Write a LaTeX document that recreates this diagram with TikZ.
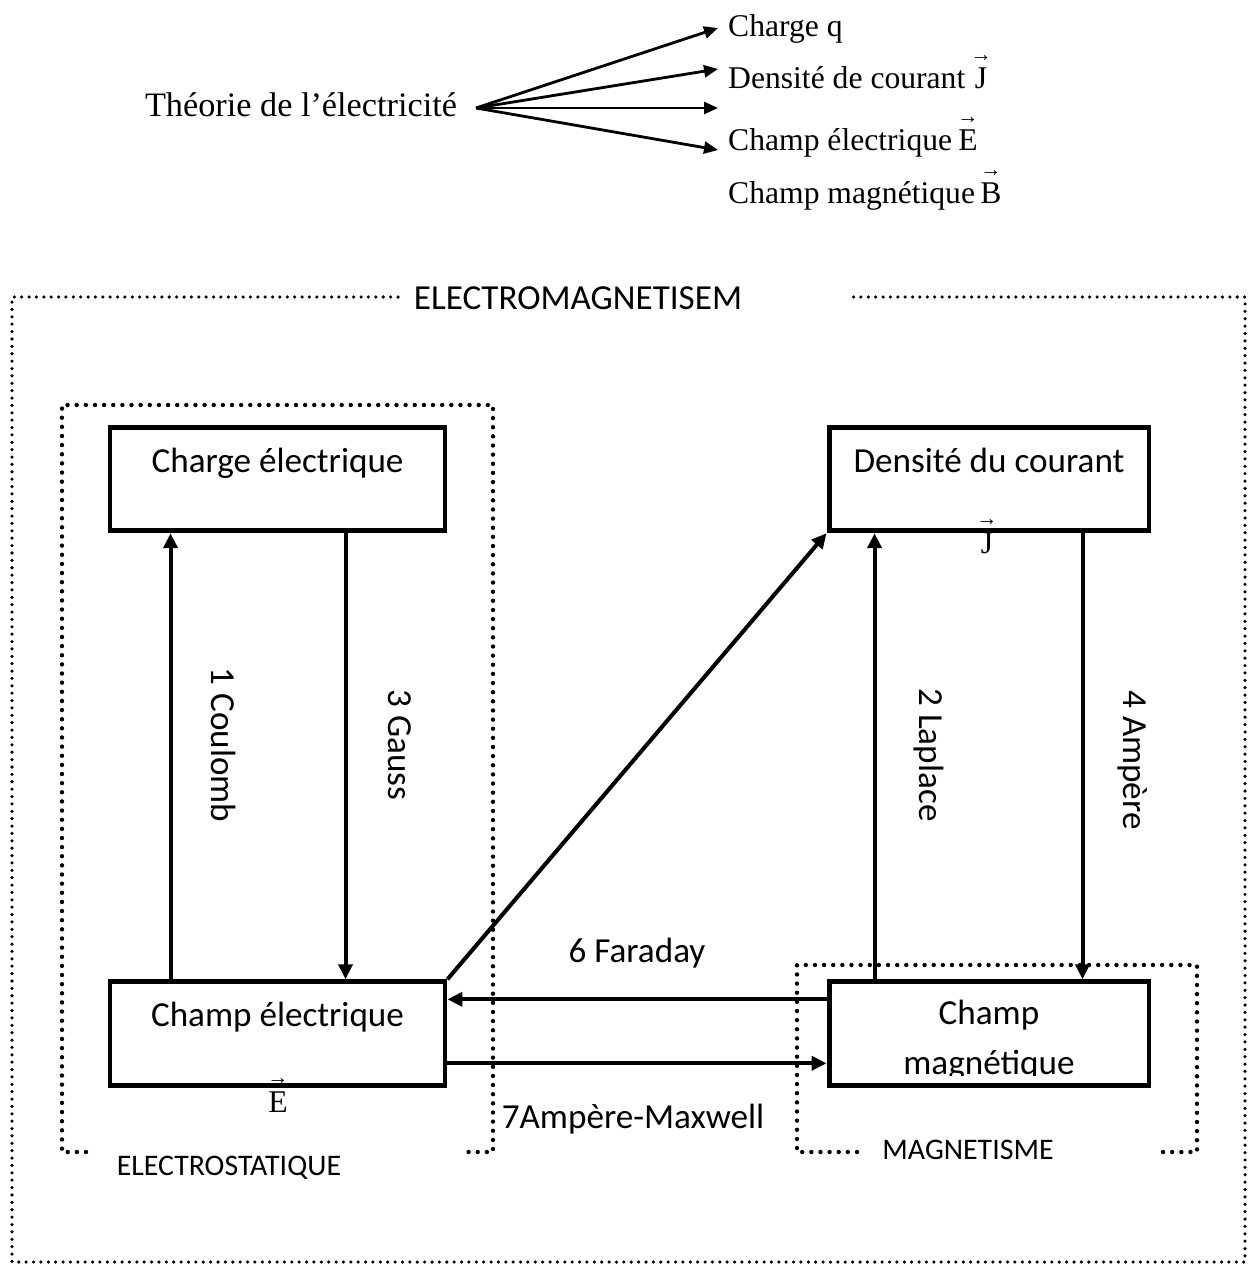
\documentclass[tikz,border=0pt]{standalone}
\usepackage{fontspec}
\setmainfont{Liberation Serif}
\newfontfamily\sansf{Carlito}
\usetikzlibrary{arrows.meta}

% lettre surmontee d'une petite fleche
\newcommand{\vecl}[1]{\leavevmode\vbox{\offinterlineskip\halign{\hfil##\hfil\cr
  {\fontsize{12pt}{12pt}\selectfont\char"2192}\cr\noalign{\kern4pt}#1\cr}}}

\begin{document}
\begin{tikzpicture}[
  x=0.02cm,y=-0.02cm,
  >={Triangle[length=0.3cm,width=0.28cm]},
  box/.style={draw,line width=2.8pt,minimum width=#1,minimum height=2.07cm,
    inner sep=0pt,text height=0.45cm,text depth=0.73cm,
    font=\sansf\fontsize{20pt}{24pt}\selectfont},
  conn/.style={->,line width=2.3pt},
  branch/.style={->,line width=1.6pt,>={Triangle[length=0.28cm,width=0.24cm]}},
  zone/.style={line width=2.5pt,line cap=round,dash pattern=on 0pt off 5.2pt},
  bigzone/.style={line width=2pt,line cap=round,dash pattern=on 0pt off 4.2pt},
  sanslbl/.style={font=\sansf\fontsize{20pt}{24pt}\selectfont},
  zonelbl/.style={font=\sansf\fontsize{17pt}{20pt}\selectfont},
  serif/.style={font=\fontsize{18pt}{22pt}\selectfont}
]
\useasboundingbox (0,0) rectangle (1250,1267);

%--------------------
% Theorie de l'electricite
%--------------------
\node[serif,font=\fontsize{19.5pt}{23pt}\selectfont,anchor=base] (theorie)
  at (301,117) {Théorie de l’électricité};
\coordinate (src) at (476,108);
\coordinate (t1) at (718,28);
\coordinate (t2) at (718,69);
\coordinate (t3) at (718,108);
\coordinate (t4) at (718,150);
\foreach \t in {t1,t2,t3,t4}
  \draw[branch] (src) -- (\t);

\node[serif,anchor=base west] (q) at (722,37) {Charge q};
\node[serif,anchor=base west] (jv) at (722,89) {Densité de courant\,\vecl{J}};
\node[serif,anchor=base west] (ev) at (722,151) {Champ électrique\,\vecl{E}};
\node[serif,anchor=base west] (bv) at (722,204) {Champ magnétique\,\vecl{B}};

%--------------------
% cadres pointilles
%--------------------
\draw[bigzone] (398,297) -- (12,297) -- (12,1262) -- (1245,1262)
  -- (1245,297) -- (853,297);
\node[sanslbl,anchor=base] (em) at (578,309) {ELECTROMAGNETISEM};

\draw[zone] (86,1152) -- (62,1152) -- (62,405) -- (493,405) -- (493,1152)
  -- (468,1152);
\node[zonelbl,anchor=base] (es) at (229,1175) {ELECTROSTATIQUE};

\draw[zone] (857,1152) -- (797,1152) -- (797,965) -- (1197,965)
  -- (1197,1152) -- (1160,1152);
\node[zonelbl,anchor=base] (mg) at (968,1159) {MAGNETISME};

%--------------------
% grandeurs
%--------------------
\node[box=6.7cm] (cel) at (277.5,479) {Charge électrique};
\node[box=6.4cm] (den) at (989,479) {Densité du courant};
\node[box=6.7cm] (chel) at (277.5,1033.5) {Champ électrique};
\node[box=6.4cm] (cmag) at (989,1033.5) {};

% texte coupe en bas du cadre
\begin{scope}
  \clip (833,986) rectangle (1145,1075);
  \node[align=center,anchor=base,font=\sansf\fontsize{20pt}{27.9pt}\selectfont]
    (cmagtxt) at (989,1074) {Champ\\magnétique};
\end{scope}

\node[serif,anchor=base] (jvec) at (987,553) {\vecl{J}};
\node[serif,anchor=base] (evec) at (278,1112) {\vecl{E}};

%--------------------
% lois
%--------------------
\draw[conn] ([xshift=1.26cm]chel.north west) -- ([xshift=1.26cm]cel.south west);
\draw[conn] ([xshift=4.76cm]cel.south west) -- ([xshift=4.76cm]chel.north west);
\draw[conn] (chel.north east) -- (den.south west);
\draw[conn] ([xshift=0.96cm]cmag.north west) -- ([xshift=0.96cm]den.south west);
\draw[conn] ([xshift=5.12cm]den.south west) -- ([xshift=5.12cm]cmag.north west);
\draw[conn] ([yshift=-0.4cm]cmag.north west) -- ([yshift=-0.4cm]chel.north east);
\draw[conn] ([yshift=-1.68cm]chel.north east) -- ([yshift=-1.68cm]cmag.north west);

\node[sanslbl,rotate=-90] (l1) at (224,745) {1 Coulomb};
\node[sanslbl,rotate=-90] (l3) at (400,745) {3 Gauss};
\node[sanslbl,rotate=-90] (l2) at (929,755) {2 Laplace};
\node[sanslbl,rotate=-90] (l4) at (1133,760) {4 Ampère};
\node[sanslbl,anchor=base] (l6) at (637,962) {6 Faraday};
\node[sanslbl,anchor=base] (l7) at (633,1128) {7Ampère-Maxwell};

\end{tikzpicture}
\end{document}
